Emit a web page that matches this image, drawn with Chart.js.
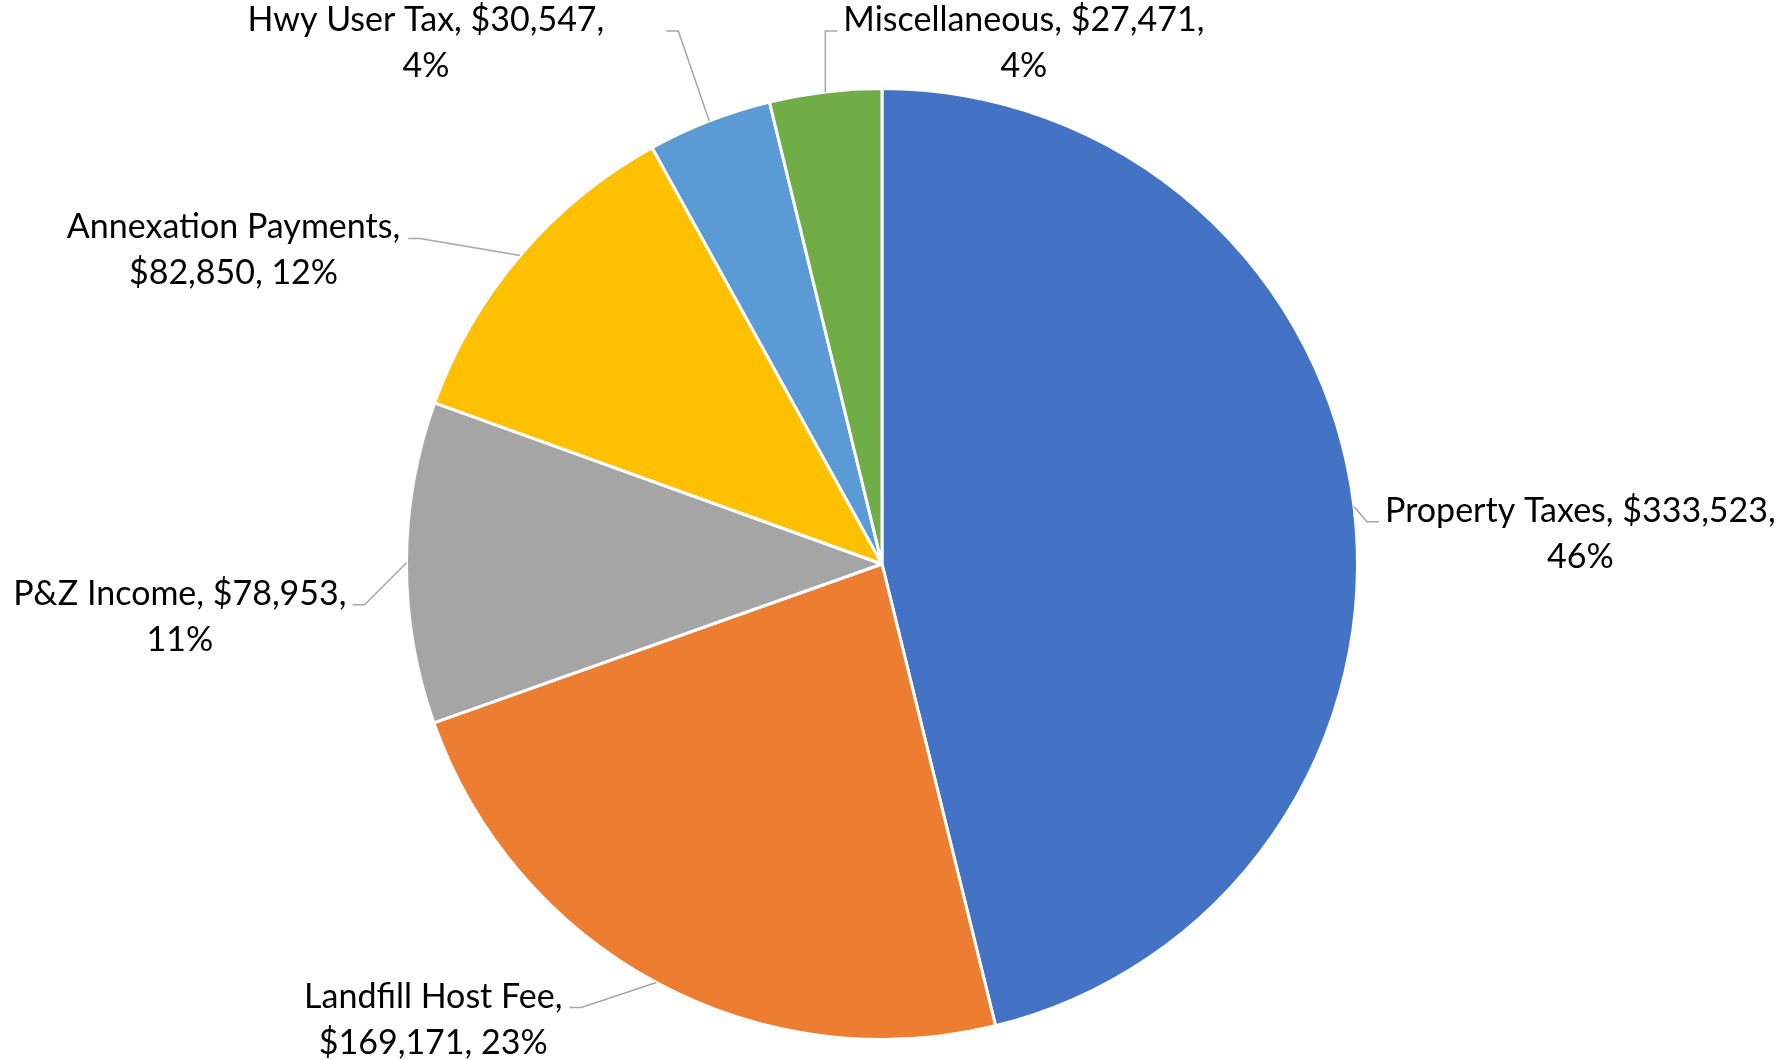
<!DOCTYPE html>
<html lang="en">
<head>
  <meta charset="UTF-8">
  <title>Revenue</title>
  <style>
    html, body { margin: 0; padding: 0; background: #ffffff; }
    #pieChart { display: block; }
  </style>
</head>
<body>
<canvas id="pieChart" width="1783" height="1060"></canvas>

<script src="https://cdn.jsdelivr.net/npm/chart.js"></script>
<script>
  // data
  const categories = ['Property Taxes', 'Landfill Host Fee', 'P&Z Income', 'Annexation Payments', 'Hwy User Tax', 'Miscellaneous'];
  const amounts = [333523, 169171, 78953, 82850, 30547, 27471];
  const sliceColors = ['#4472C4', '#ED7D31', '#A5A5A5', '#FFC000', '#5B9BD5', '#70AD47'];

  // where each label line breaks: after the name or after the amount
  const lineBreaks = ['amount', 'name', 'amount', 'name', 'amount', 'amount'];

  // leader line shape, relative to the slice's outer edge midpoint
  const leaders = [
    { elbow: [13, 15],    run: 12,  gap: 6 },
    { elbow: [-75, 25],   run: -12, gap: 7 },
    { elbow: [-42, 42],   run: -12, gap: 6 },
    { elbow: [-100, -17], run: -12, gap: 8 },
    { elbow: [-31, -90],  run: -12, gap: 62 },
    { elbow: [0, -61],    run: 12,  gap: 6 }
  ];

  const labelFont = '34px Lato';
  const lineHeight = 46;

  // excel style percentages: rounded so they add up to 100
  function roundedPercents(vals) {
    const total = vals.reduce((a, b) => a + b, 0);
    const raw = vals.map(v => v / total * 100);
    const out = raw.map(Math.floor);
    let left = 100 - out.reduce((a, b) => a + b, 0);
    const order = raw.map((r, i) => i).sort((a, b) => (raw[b] - out[b]) - (raw[a] - out[a]));
    for (let k = 0; k < left; k++) out[order[k]]++;
    return out;
  }

  function labelLines(i, pct) {
    const money = '$' + amounts[i].toLocaleString('en-US');
    if (lineBreaks[i] === 'name') {
      return [categories[i] + ',', money + ', ' + pct + '%'];
    }
    return [categories[i] + ', ' + money + ',', pct + '%'];
  }

  const leaderLabels = {
    id: 'leaderLabels',
    afterDatasetsDraw(chart) {
      const ctx = chart.ctx;
      const meta = chart.getDatasetMeta(0);
      const pcts = roundedPercents(amounts);
      ctx.save();
      ctx.font = labelFont;
      ctx.fillStyle = '#000000';
      ctx.strokeStyle = '#A6A6A6';
      ctx.lineWidth = 1.5;
      ctx.textBaseline = 'alphabetic';
      meta.data.forEach((arc, i) => {
        const p = arc.getProps(['x', 'y', 'startAngle', 'endAngle', 'outerRadius'], true);
        const mid = (p.startAngle + p.endAngle) / 2;
        const sx = p.x + Math.cos(mid) * p.outerRadius;
        const sy = p.y + Math.sin(mid) * p.outerRadius;
        const L = leaders[i];
        const ex = sx + L.elbow[0], ey = sy + L.elbow[1];
        const tx = ex + L.run;

        ctx.beginPath();
        ctx.moveTo(sx, sy);
        ctx.lineTo(ex, ey);
        ctx.lineTo(tx, ey);
        ctx.stroke();

        const lines = labelLines(i, pcts[i]);
        const w = Math.max(...lines.map(s => ctx.measureText(s).width));
        const cx = L.run > 0 ? tx + L.gap + w / 2 : tx - L.gap - w / 2;
        ctx.textAlign = 'center';
        lines.forEach((s, k) => ctx.fillText(s, cx, ey + k * lineHeight));
      });
      ctx.restore();
    }
  };

  const myChart = new Chart(document.getElementById('pieChart'), {
    type: 'pie',
    data: {
      labels: categories,
      datasets: [{
        data: amounts,
        backgroundColor: sliceColors,
        borderColor: '#ffffff',
        borderWidth: 3,
        hoverOffset: 0,
        offset: 0
      }]
    },
    options: {
      responsive: false,
      maintainAspectRatio: false,
      animation: false,
      layout: {
        padding: { left: 405, right: 424, top: 87, bottom: 19 }
      },
      plugins: {
        legend: { display: false },
        tooltip: { enabled: false }
      }
    },
    plugins: [leaderLabels]
  });
</script>
</body>
</html>
